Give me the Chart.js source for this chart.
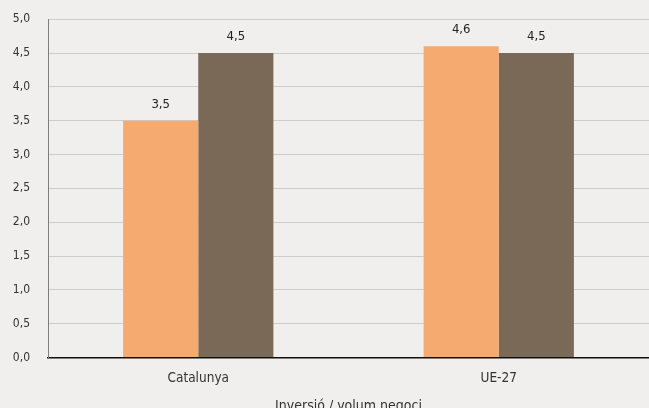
<!DOCTYPE html>
<html>
<head>
<meta charset="utf-8">
<script src="https://cdn.jsdelivr.net/npm/chart.js@4"></script>
<style>
  html, body { margin: 0; padding: 0; background: #f0efed; overflow: hidden; }
  #wrap { width: 649px; height: 419px; margin-top: -6px; }
</style>
</head>
<body>
<div id="wrap"><canvas id="myChart"></canvas></div>
<script>
const labels = ['Catalunya', 'UE-27'];
const serie1 = [3.5, 4.6];
const serie2 = [4.5, 4.5];
const yTicks = [0, 0.5, 1, 1.5, 2, 2.5, 3, 3.5, 4, 4.5, 5];

const fmt = (v) => v.toFixed(1).replace('.', ',');
const FONT = '"DejaVu Sans Condensed", "DejaVu Sans"';

// labels above every bar
const valueLabels = {
    id: 'valueLabels',
    afterDatasetsDraw(chart) {
        const c = chart.ctx;
        c.save();
        c.font = '13px ' + FONT;
        c.fillStyle = '#222';
        c.textAlign = 'center';
        c.textBaseline = 'bottom';
        chart.data.datasets.forEach((ds, i) => {
            chart.getDatasetMeta(i).data.forEach((bar, j) => {
                c.fillText(fmt(ds.data[j]), bar.x, bar.y - 10);
            });
        });
        c.restore();
    }
};

const ctx = document.getElementById('myChart').getContext('2d');

const data = {
    labels,
    datasets: [
        {
            label: 'Sèrie 1',
            data: serie1,
            backgroundColor: '#f5aa70',
        },
        {
            label: 'Sèrie 2',
            data: serie2,
            backgroundColor: '#7a6956',
        },
    ],
};

const config = {
    type: 'bar',
    data: data,
    plugins: [valueLabels],
    options: {
        responsive: true,
        maintainAspectRatio: false,
        animation: false,
        categoryPercentage: 0.5,
        barPercentage: 1,
        layout: {
            padding: { top: 6, right: 0, left: 0, bottom: 0 },
        },
        plugins: {
            legend: { display: false },
            tooltip: { enabled: false },
        },
        scales: {
            x: {
                grid: { display: false, drawTicks: false },
                border: { color: '#111', width: 1.5 },
                ticks: {
                    color: '#333',
                    padding: 14,
                    font: { family: FONT, size: 13.5, lineHeight: 1 },
                },
                title: {
                    display: true,
                    text: 'Inversió / volum negoci',
                    color: '#333',
                    padding: { top: 0, bottom: 0 },
                    font: { family: FONT, size: 14, lineHeight: 1 },
                },
            },
            y: {
                min: 0,
                max: 5,
                afterBuildTicks: (axis) => {
                    axis.ticks = yTicks.map((v) => ({ value: v }));
                },
                afterFit: (axis) => {
                    axis.width = 48;
                },
                grid: { color: '#cfcdca', drawTicks: false },
                border: { color: '#807e7c' },
                ticks: {
                    color: '#333',
                    padding: 18,
                    font: { family: FONT, size: 12 },
                    callback: function (value) {
                        return fmt(value);
                    },
                },
            },
        },
    },
};

const myChart = new Chart(ctx, config);
</script>
</body>
</html>
